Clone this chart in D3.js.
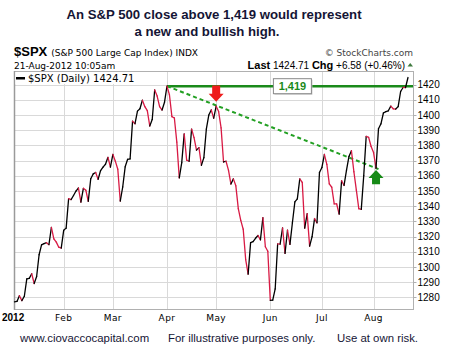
<!DOCTYPE html>
<html>
<head>
<meta charset="utf-8">
<script src="https://cdn.jsdelivr.net/npm/d3@7"></script>
<style>
  body { margin: 0; background: #fff; }
</style>
</head>
<body>
<div id="chart-container"></div>
<script>
// S&P 500 daily closes, 3-Jan-2012 .. 21-Aug-2012 (last one intraday)
var month_names = ["2012", "Feb", "Mar", "Apr", "May", "Jun", "Jul", "Aug"];
var month_days = [20, 20, 22, 20, 22, 21, 21, 15];
var closes = [
  // Jan
  1277.06, 1277.30, 1281.06, 1277.81, 1280.70, 1292.08, 1292.48, 1295.50, 1289.09, 1293.67,
  1308.04, 1314.50, 1315.38, 1316.00, 1314.65, 1326.06, 1318.43, 1316.33, 1313.01, 1312.41,
  // Feb
  1324.09, 1325.54, 1344.90, 1344.33, 1347.05, 1349.96, 1351.95, 1342.64, 1351.77, 1350.50,
  1343.23, 1358.04, 1361.23, 1362.21, 1357.66, 1363.46, 1365.74, 1367.59, 1372.18, 1365.68,
  // Mar
  1374.09, 1369.63, 1364.33, 1343.36, 1352.63, 1365.91, 1370.87, 1371.09, 1395.95, 1394.28,
  1402.60, 1404.17, 1409.75, 1405.52, 1402.89, 1392.78, 1397.11, 1416.51, 1412.52, 1405.54,
  1403.28, 1408.47,
  // Apr
  1419.04, 1413.38, 1398.96, 1398.08, 1382.20, 1358.59, 1368.71, 1387.57, 1370.26, 1369.57,
  1390.78, 1385.14, 1376.92, 1378.53, 1366.94, 1371.97, 1390.69, 1399.98, 1403.36, 1397.91,
  // May
  1405.82, 1402.31, 1391.57, 1369.10, 1369.58, 1363.72, 1354.58, 1357.99, 1353.39, 1338.35,
  1330.66, 1324.80, 1304.86, 1295.22, 1315.99, 1316.63, 1318.86, 1320.68, 1317.82, 1332.42,
  1313.32, 1310.33,
  // Jun
  1278.04, 1278.18, 1285.50, 1315.13, 1314.99, 1325.66, 1308.93, 1324.18, 1314.88, 1329.10,
  1342.84, 1344.78, 1357.98, 1355.69, 1325.51, 1335.02, 1313.72, 1319.99, 1331.85, 1329.04,
  1362.16,
  // Jul
  1365.51, 1374.02, 1367.58, 1354.68, 1352.46, 1341.47, 1341.45, 1334.76, 1356.78, 1353.64,
  1363.67, 1372.78, 1376.51, 1362.66, 1350.52, 1338.31, 1337.89, 1360.02, 1385.97, 1385.30,
  1379.32,
  // Aug
  1375.32, 1365.00, 1390.99, 1394.23, 1401.35, 1402.22, 1402.80, 1405.87, 1404.11, 1403.93,
  1405.53, 1415.51, 1418.16, 1418.13, 1424.71
];
var y_ticks = [1280, 1290, 1300, 1310, 1320, 1330, 1340, 1350, 1360, 1370, 1380, 1390, 1400, 1410, 1420];

// annotations (index = trading day, values in index points)
var resistance = 1419;
var resistance_label = "1,419";
var resistance_label_at = 113;
var trend_line = [[62, 1419.04], [148, 1364.4]];
var down_arrow = {i: 82, from: 1419.5, to: 1408.8};
var up_arrow = {i: 147, from: 1354.4, to: 1363.8};

var svg_width = 449, svg_height = 358;
var plot = {left: 14, right: 413, top: 71, bottom: 309};
var up_color = "#000", down_color = "#d81a44";
var grid_color = "#d9d9d9";
var ink = "#151535";

var svg = d3.select("#chart-container")
  .append("svg")
  .attr("width", svg_width)
  .attr("height", svg_height)
  .style("font-family", "'DejaVu Sans', Verdana, sans-serif");

var x = d3.scaleLinear()
  .domain([0, closes.length - 1])
  .range([14.5, 408]);

var y = d3.scaleLinear()
  .domain([1272.3, 1429])
  .range([plot.bottom, plot.top]);

// month start indices
var month_start = [];
month_days.reduce(function(acc, n) { month_start.push(acc); return acc + n; }, 0);

// title
var title = svg.append("text")
  .attr("text-anchor", "middle")
  .attr("font-family", "'Liberation Sans', Arial, sans-serif")
  .attr("font-weight", "bold")
  .attr("font-size", "13.2px")
  .attr("fill", ink);
title.append("tspan").attr("x", 214).attr("y", 19).text("An S&P 500 close above 1,419 would represent");
title.append("tspan").attr("x", 207).attr("y", 36).text("a new and bullish high.");

// header
var h1 = svg.append("text").attr("x", 14).attr("y", 55.5).attr("fill", "#000");
h1.append("tspan")
  .attr("font-family", "'Liberation Sans', Arial, sans-serif")
  .attr("font-weight", "bold").attr("font-size", "13px").text("$SPX");
h1.append("tspan").attr("dx", 4).attr("font-size", "9px").text("(S&P 500 Large Cap Index) INDX");

svg.append("text")
  .attr("x", 413).attr("y", 55.5)
  .attr("text-anchor", "end")
  .attr("font-size", "9px")
  .attr("fill", "#444")
  .text("\u00a9 StockCharts.com");

svg.append("text")
  .attr("x", 14).attr("y", 68.5)
  .attr("font-size", "9px")
  .attr("fill", "#000")
  .text("21-Aug-2012 10:05am");

var h2 = svg.append("text")
  .attr("x", 405).attr("y", 68.5)
  .attr("text-anchor", "end")
  .attr("font-family", "'Liberation Sans', Arial, sans-serif")
  .attr("font-size", "10px")
  .attr("fill", "#000");
h2.append("tspan").attr("font-weight", "bold").attr("font-size", "11px").text("Last");
h2.append("tspan").text(" 1424.71 ");
h2.append("tspan").attr("font-weight", "bold").attr("font-size", "11px").text(" Chg");
h2.append("tspan").text(" +6.58 (+0.46%)");
svg.append("path")
  .attr("d", "M407.5,66.5 L413,66.5 L410.25,63 Z")
  .attr("fill", "#3f7a3f");

// grid
svg.selectAll(".h-grid")
  .data(y_ticks)
  .enter()
  .append("line")
  .attr("class", "h-grid")
  .attr("x1", plot.left).attr("x2", plot.right)
  .attr("y1", function(d) { return Math.round(y(d)) + 0.5; })
  .attr("y2", function(d) { return Math.round(y(d)) + 0.5; })
  .attr("stroke", grid_color);

svg.selectAll(".y-tick")
  .data(y_ticks)
  .enter()
  .append("line")
  .attr("class", "y-tick")
  .attr("x1", plot.right).attr("x2", plot.right + 3.5)
  .attr("y1", function(d) { return Math.round(y(d)) + 0.5; })
  .attr("y2", function(d) { return Math.round(y(d)) + 0.5; })
  .attr("stroke", "#b0b0b0");

svg.selectAll(".v-grid")
  .data(month_start.slice(1))
  .enter()
  .append("line")
  .attr("class", "v-grid")
  .attr("x1", function(d) { return Math.round(x(d)) + 0.5; })
  .attr("x2", function(d) { return Math.round(x(d)) + 0.5; })
  .attr("y1", plot.top).attr("y2", plot.bottom)
  .attr("stroke", grid_color);

// border
svg.append("rect")
  .attr("x", plot.left + 0.5).attr("y", plot.top + 0.5)
  .attr("width", plot.right - plot.left).attr("height", plot.bottom - plot.top)
  .attr("fill", "none")
  .attr("stroke", "#b0b0b0");
svg.append("line")
  .attr("x1", plot.left + 0.5).attr("x2", plot.left + 0.5)
  .attr("y1", plot.top).attr("y2", plot.bottom + 1)
  .attr("stroke", "#9a9a9a").attr("stroke-width", 1.5);

// y labels
svg.selectAll(".y-label")
  .data(y_ticks)
  .enter()
  .append("text")
  .attr("class", "y-label")
  .attr("x", 417.5)
  .attr("y", function(d) { return y(d); })
  .attr("dy", "0.36em")
  .attr("font-family", "'Liberation Sans', Arial, sans-serif")
  .attr("font-size", "10px")
  .attr("fill", "#000")
  .text(function(d) { return d; });

// x labels
svg.selectAll(".x-label")
  .data(month_names)
  .enter()
  .append("text")
  .attr("class", "x-label")
  .attr("x", function(d, i) { return i === 0 ? 2 : x(month_start[i]); })
  .attr("y", 321)
  .attr("text-anchor", function(d, i) { return i === 0 ? "start" : "middle"; })
  .attr("font-size", function(d, i) { return i === 0 ? "10px" : "9px"; })
  .attr("font-family", function(d, i) { return i === 0 ? "'Liberation Sans', Arial, sans-serif" : null; })
  .attr("font-weight", function(d, i) { return i === 0 ? "bold" : "normal"; })
  .attr("letter-spacing", function(d, i) { return i === 0 ? 0 : 0.4; })
  .attr("fill", "#000")
  .text(function(d) { return d; });

// legend
svg.append("rect")
  .attr("x", plot.left + 1.5).attr("y", plot.top + 1)
  .attr("width", 136).attr("height", 12)
  .attr("fill", "#fff");
svg.append("rect")
  .attr("x", 16).attr("y", 77).attr("width", 9).attr("height", 2.5)
  .attr("fill", "#000");
svg.append("text")
  .attr("x", 28).attr("y", 81.5)
  .attr("font-size", "10px")
  .attr("fill", "#000")
  .text("$SPX (Daily) 1424.71");

// resistance line
svg.append("line")
  .attr("x1", x(trend_line[0][0])).attr("x2", plot.right)
  .attr("y1", y(resistance)).attr("y2", y(resistance))
  .attr("stroke", "#1a8a1a")
  .attr("stroke-width", 2.5);

// trend line
svg.append("line")
  .attr("x1", x(trend_line[0][0])).attr("y1", y(trend_line[0][1]))
  .attr("x2", x(trend_line[1][0])).attr("y2", y(trend_line[1][1]))
  .attr("stroke", "#23a023")
  .attr("stroke-width", 2)
  .attr("stroke-dasharray", "4,3");

// price line, black up days, red down days
svg.selectAll(".seg")
  .data(d3.pairs(closes))
  .enter()
  .append("line")
  .attr("class", "seg")
  .attr("x1", function(d, i) { return x(i); })
  .attr("x2", function(d, i) { return x(i + 1); })
  .attr("y1", function(d) { return y(d[0]); })
  .attr("y2", function(d) { return y(d[1]); })
  .attr("stroke", function(d) { return d[1] >= d[0] ? up_color : down_color; })
  .attr("stroke-width", 1.3)
  .attr("stroke-linecap", "round");

// label box
var bx = x(resistance_label_at), by = y(resistance);
svg.append("rect")
  .attr("x", bx - 18).attr("y", by - 6.5)
  .attr("width", 38).attr("height", 15)
  .attr("fill", "#c8c8c8");
svg.append("rect")
  .attr("x", bx - 19).attr("y", by - 7.5)
  .attr("width", 38).attr("height", 15)
  .attr("fill", "#fff")
  .attr("stroke", "#8a8a8a");
svg.append("text")
  .attr("x", bx).attr("y", by)
  .attr("dy", "0.36em")
  .attr("text-anchor", "middle")
  .attr("font-family", "'Liberation Sans', Arial, sans-serif")
  .attr("font-weight", "bold")
  .attr("font-size", "11px")
  .attr("fill", "#1a8a1a")
  .text(resistance_label);

// arrows
function arrow(a, color) {
  var ax = x(a.i), y_from = y(a.from), y_to = y(a.to);
  var dir = y_to > y_from ? 1 : -1;
  var head = 8;
  var y_neck = y_to - dir * head;
  var pts = [
    [ax - 4, y_from], [ax + 4, y_from], [ax + 4, y_neck], [ax + 7.5, y_neck],
    [ax, y_to], [ax - 7.5, y_neck], [ax - 4, y_neck]
  ];
  svg.append("path")
    .attr("d", "M" + pts.join("L") + "Z")
    .attr("fill", color);
}
arrow(down_arrow, "#ee1c1c");
arrow(up_arrow, "#168a16");

// footer
var foot = svg.append("g")
  .attr("font-family", "'Liberation Sans', Arial, sans-serif")
  .attr("font-size", "11.4px")
  .attr("fill", ink);
foot.append("text").attr("x", 20).attr("y", 342).text("www.ciovaccocapital.com");
foot.append("text").attr("x", 168).attr("y", 342).text("For illustrative purposes only.");
foot.append("text").attr("x", 337).attr("y", 342).text("Use at own risk.");
</script>
</body>
</html>
